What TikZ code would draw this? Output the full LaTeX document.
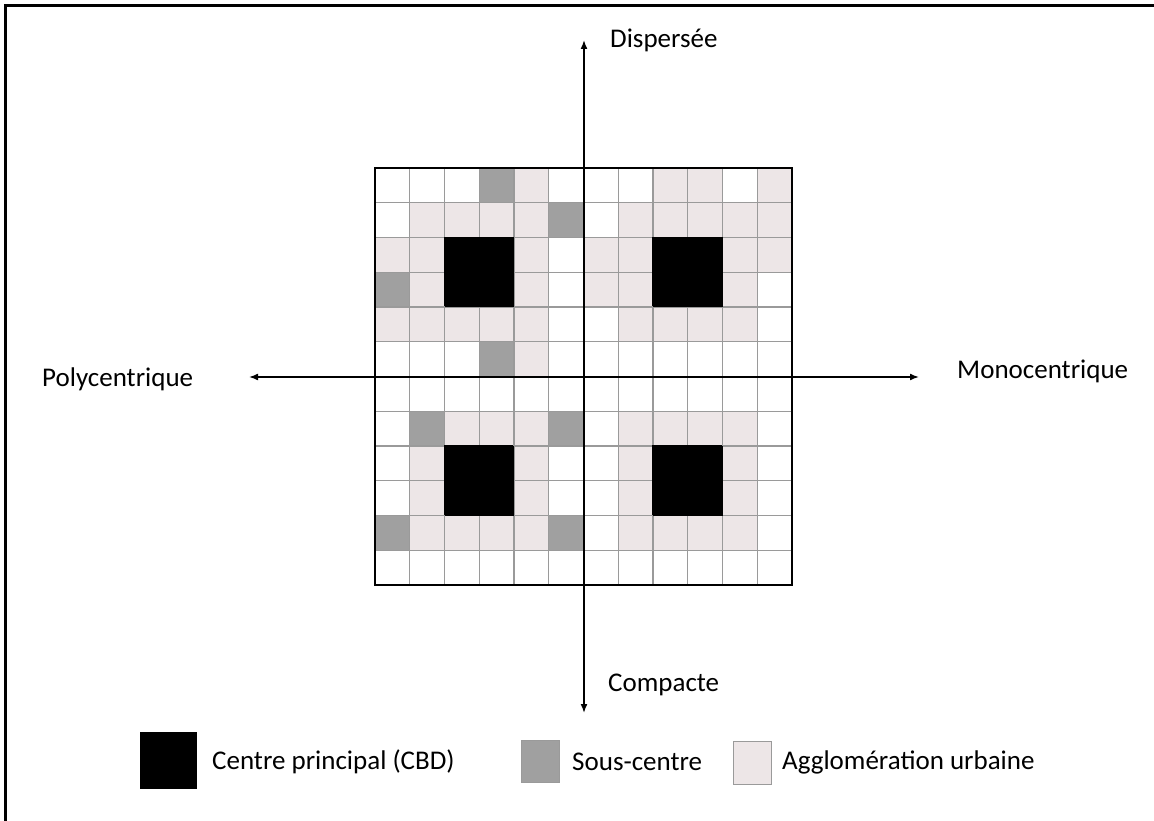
\documentclass[tikz,border=0pt]{standalone}
\usepackage{fontspec}
\setmainfont{Carlito}
\usetikzlibrary{arrows.meta}
\definecolor{subgray}{HTML}{A0A0A0}
\definecolor{urbpink}{HTML}{EDE6E7}
\definecolor{linegray}{HTML}{9A9A9A}
\tikzset{
  cellW/.style={fill=white, draw=linegray},
  cellG/.style={fill=subgray, draw=linegray},
  cellP/.style={fill=urbpink, draw=linegray},
  cellB/.style={fill=black, draw=black},
  axis/.style={line width=1.6pt, -{Latex[length=9pt,width=7pt]}},
  lbl/.style={anchor=west, inner sep=0pt, font=\fontsize{27}{32}\selectfont}
}
\begin{document}
\begin{tikzpicture}[x=1pt, y=-1pt]
    \useasboundingbox (0,0) rectangle (1154,821);
    % --- frame ---
    \draw[line width=3pt] (5,821) -- (5,6) -- (1154,6);

    % --- grid 12x12 ---
    \def\s{34.75}
    \foreach \r/\row in {0/{W,W,W,G,P,W,W,W,P,P,W,P},
                         1/{W,P,P,P,P,G,W,P,P,P,P,P},
                         2/{P,P,B,B,P,W,P,P,B,B,P,P},
                         3/{G,P,B,B,P,W,P,P,B,B,P,W},
                         4/{P,P,P,P,P,W,W,P,P,P,P,W},
                         5/{W,W,W,G,P,W,W,W,W,W,W,W},
                         6/{W,W,W,W,W,W,W,W,W,W,W,W},
                         7/{W,G,P,P,P,G,W,P,P,P,P,W},
                         8/{W,P,B,B,P,W,W,P,B,B,P,W},
                         9/{W,P,B,B,P,W,W,P,B,B,P,W},
                        10/{G,P,P,P,P,G,W,P,P,P,P,W},
                        11/{W,W,W,W,W,W,W,W,W,W,W,W}}
      \foreach \k [count=\c from 0] in \row
        \path[cell\k, line width=1.2pt] ({375+\c*\s},{168+\r*\s}) rectangle ++(\s,\s);
    % black centres on top
    \foreach \cx/\cy in {2/2,8/2,2/8,8/8}
      \fill ({375+\cx*\s},{168+\cy*\s}) rectangle ++({2*\s},{2*\s});
    \draw[line width=1.8pt] (375,168) rectangle (792,585);

    % --- axes ---
    \coordinate (ctr) at (584,377);
    \coordinate (top) at (584,40);  \coordinate (bot) at (584,713);
    \coordinate (lft) at (249,377); \coordinate (rgt) at (919,377);
    \draw[axis] (ctr) -- (top); \draw[axis] (ctr) -- (bot);
    \draw[axis] (ctr) -- (lft); \draw[axis] (ctr) -- (rgt);

    \node[lbl] (disp) at (610,40) {Dispersée};
    \node[lbl] (comp) at (608,685) {Compacte};
    \node[lbl] (poly) at (42,379) {Polycentrique};
    \node[lbl] (mono) at (957,371) {Monocentrique};

    % --- legend ---
    \fill (140,732) rectangle (197,789);
    \node[lbl] (cbd) at (212,762) {Centre principal (CBD)};
    \filldraw[fill=subgray, draw=linegray, line width=1pt] (521,740) rectangle (559,782);
    \node[lbl] (sub) at (572,762) {Sous-centre};
    \filldraw[fill=urbpink, draw=linegray, line width=1pt] (733,741) rectangle (771,784);
    \node[lbl] (urb) at (782,762) {Agglomération urbaine};
\end{tikzpicture}
\end{document}
